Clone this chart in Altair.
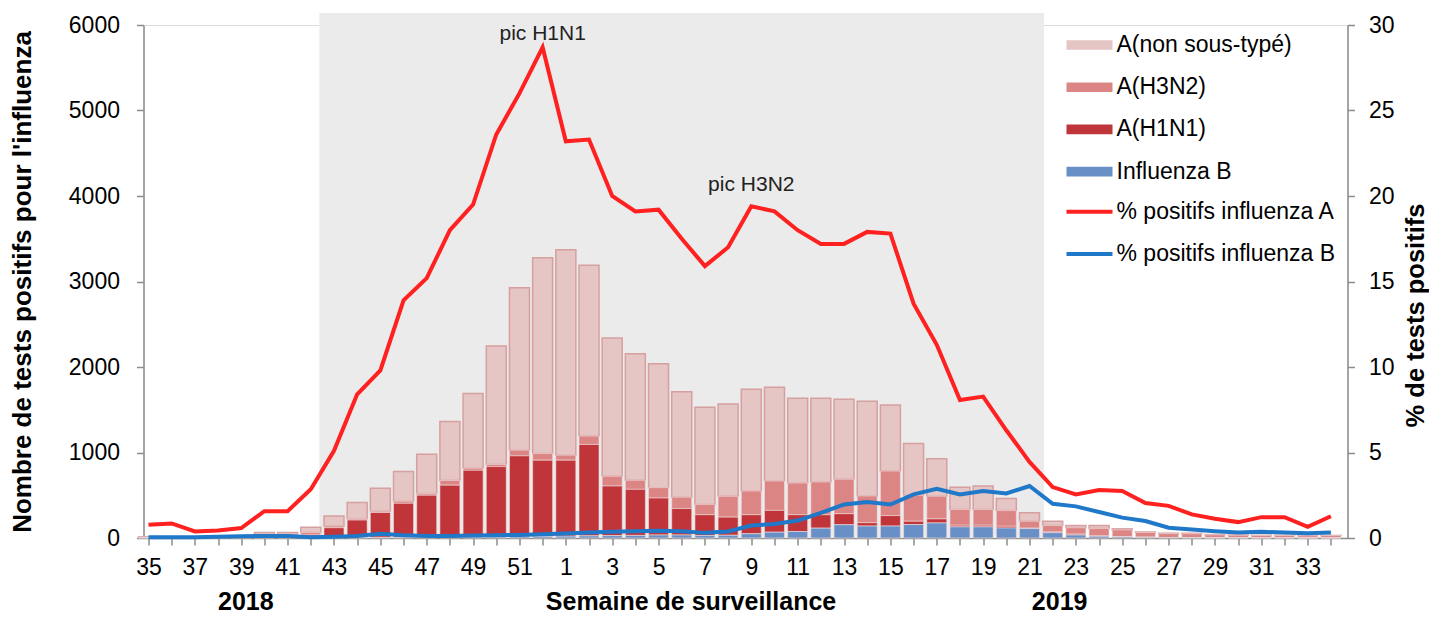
import altair as alt
import pandas as pd

# ---------------- data ----------------
weeks = list(range(35, 53)) + list(range(1, 35))
tick_labels = [str(w) if i % 2 == 0 else "" for i, w in enumerate(weeks)]

bar_types = ["A(non sous-typé)", "A(H3N2)", "A(H1N1)", "Influenza B"]
bar_colors = ["#e6c5c5", "#dc8585", "#c0353a", "#6890c6"]

flu_b = [3, 3, 3, 4, 5, 8, 8, 5, 5, 5, 8, 8, 8, 10, 10, 10, 15, 18,
         22, 25, 28, 30, 35, 35, 30, 32, 50, 68, 76, 115, 155, 140, 140, 157, 176, 130, 130, 117, 110,
         62, 35, 20, 12, 8, 5, 4, 3, 3, 3, 3, 2, 2]
h1n1 = [2, 2, 2, 2, 3, 5, 5, 30, 115, 205, 290, 397, 492, 608, 782, 825, 946, 892,
        888, 1069, 580, 539, 432, 310, 242, 212, 222, 255, 196, 157, 129, 39, 122, 39, 47, 19, 19, 20, 5,
        8, 10, 5, 3, 2, 1, 1, 1, 1, 1, 1, 1, 1]
h3n2 = [5, 5, 5, 6, 8, 25, 25, 30, 20, 15, 15, 25, 20, 55, 25, 25, 66, 78,
        59, 98, 114, 106, 122, 132, 121, 243, 278, 344, 371, 383, 403, 313, 521, 304, 266, 184, 184, 184, 81,
        75, 75, 85, 80, 55, 45, 45, 33, 28, 25, 25, 23, 25]
non_sub = [5, 5, 5, 6, 6, 27, 27, 60, 118, 190, 270, 348, 460, 689, 873, 1385, 1899, 2290,
           2401, 1999, 1617, 1480, 1448, 1233, 1136, 1080, 1190, 1097, 991, 979, 935, 1107, 773, 604, 439, 262, 274, 141, 98,
           51, 25, 35, 12, 5, 4, 5, 3, 3, 3, 3, 2, 2]

line_names = ["% positifs influenza A", "% positifs influenza B"]
line_colors = ["#ff2020", "#1f78c8"]
pct_a = [0.78, 0.85, 0.38, 0.44, 0.58, 1.57, 1.57, 2.85, 5.1, 8.4, 9.8, 13.9, 15.2, 18.0, 19.5, 23.6, 26.0, 28.7,
         23.2, 23.3, 20.0, 19.1, 19.2, 17.5, 15.9, 17.0, 19.4, 19.1, 18.0, 17.2, 17.2, 17.9, 17.8, 13.7, 11.3, 8.07, 8.27, 6.3, 4.45,
         2.98, 2.55, 2.8, 2.75, 2.05, 1.88, 1.38, 1.13, 0.93, 1.22, 1.22, 0.65, 1.27]
pct_b = [0.05, 0.05, 0.05, 0.08, 0.1, 0.12, 0.12, 0.05, 0.08, 0.12, 0.25, 0.16, 0.12, 0.12, 0.14, 0.16, 0.18, 0.22,
         0.27, 0.32, 0.36, 0.4, 0.43, 0.4, 0.3, 0.38, 0.73, 0.82, 1.02, 1.47, 1.96, 2.1, 1.96, 2.55, 2.88, 2.55, 2.75, 2.61, 3.04,
         2.0, 1.85, 1.52, 1.19, 0.99, 0.6, 0.5, 0.4, 0.32, 0.36, 0.32, 0.28, 0.32]

# shaded season (in week-index units)
shade_start, shade_end = 7.37, 38.63

annot_text = ["pic H1N1", "pic H3N2"]
annot_idx = [17, 26]
annot_pct = [29.1, 20.3]

bottom_text = ["2018", "Semaine de surveillance", "2019"]
bottom_idx = [4.2, 23.4, 39.3]

# ---------------- tables ----------------
bar_series = {bar_types[0]: non_sub, bar_types[1]: h3n2, bar_types[2]: h1n1, bar_types[3]: flu_b}
stack_rank = {bar_types[3]: 0, bar_types[2]: 1, bar_types[1]: 2, bar_types[0]: 3}
rows = []
for i, w in enumerate(weeks):
    for name, vals in bar_series.items():
        rows.append({"idx": i, "week": w, "type": name, "value": vals[i], "ord": stack_rank[name]})
bar_df = pd.DataFrame(rows)

lrows = []
for i, w in enumerate(weeks):
    lrows.append({"idx": i, "week": w, "serie": line_names[0], "pct": pct_a[i]})
    lrows.append({"idx": i, "week": w, "serie": line_names[1], "pct": pct_b[i]})
line_df = pd.DataFrame(lrows)

shade_df = pd.DataFrame({"x0": [shade_start], "x1": [shade_end]})
annot_df = pd.DataFrame({"t": annot_text, "idx": annot_idx, "pct": annot_pct})
bottom_df = pd.DataFrame({"t": bottom_text, "idx": bottom_idx})

# ---------------- chart ----------------
W, H = 1204, 513
FONT = "Liberation Sans"
AX = "#8c8c8c"

x_scale = alt.Scale(domain=[0, 51.5], nice=False, zero=False)
label_expr = "[" + ",".join("'" + t + "'" for t in tick_labels) + "][datum.value]"
x_axis = alt.Axis(values=list(range(len(weeks))), labelExpr=label_expr, title=None, grid=False,
                  labelOverlap=False, labelFlush=False, labelBound=False,
                  tickSize=7, tickWidth=1.5, tickColor=AX, domainColor=AX, domainWidth=1.5,
                  labelFontSize=23, labelFont=FONT, labelColor="#000000", labelPadding=11)

left_axis = alt.Axis(values=[0, 1000, 2000, 3000, 4000, 5000, 6000], format="d", grid=False,
                     title="Nombre de tests positifs pour l'influenza",
                     titleFont=FONT, titleFontSize=26, titleFontWeight="bold", titleColor="#000000",
                     titleAngle=270, titleAlign="center", titleBaseline="middle", titleX=-121, titleY=H / 2,
                     tickSize=7, tickWidth=1.5, tickColor=AX, domainColor=AX, domainWidth=1.5,
                     labelFontSize=23, labelFont=FONT, labelColor="#000000", labelPadding=17)

right_axis = alt.Axis(orient="right", values=[0, 5, 10, 15, 20, 25, 30], format="d", grid=False,
                      title="% de tests positifs",
                      titleFont=FONT, titleFontSize=25.5, titleFontWeight="bold", titleColor="#000000",
                      titleAngle=270, titleAlign="center", titleBaseline="middle", titleX=67.5, titleY=290,
                      tickSize=7, tickWidth=1.5, tickColor=AX, domainColor=AX, domainWidth=1.5,
                      labelFontSize=23, labelFont=FONT, labelColor="#000000", labelPadding=14)

fill_legend = alt.Legend(title=None, orient="none", legendX=926, legendY=0,
                         symbolType="M-1.15,-0.24H1.15V0.24H-1.15Z", symbolSize=1600, symbolStrokeWidth=0,
                         symbolOpacity=1, labelFont=FONT, labelFontSize=23, labelColor="#000000",
                         labelOffset=7, labelLimit=400, rowPadding=10.2, padding=0)
stroke_legend = alt.Legend(title=None, orient="none", legendX=925, legendY=165.7,
                           symbolType="M-1.21,0H1.21", symbolSize=1444, symbolStrokeWidth=4,
                           symbolOpacity=1, labelFont=FONT, labelFontSize=23, labelColor="#000000",
                           labelOffset=6, labelLimit=400, rowPadding=9.2, padding=0)

bg = alt.Chart(shade_df).mark_rect(color="#ebebeb").encode(
    x=alt.X("x0:Q", scale=x_scale, axis=x_axis),
    x2="x1:Q",
    y=alt.value(-12),
    y2=alt.value(H),
)

is_hatch = alt.datum.type == bar_types[0]
bars = alt.Chart(bar_df).mark_bar(size=20).encode(
    x=alt.X("idx:Q", scale=x_scale, axis=x_axis),
    y=alt.Y("value:Q", stack="zero", scale=alt.Scale(domain=[0, 6000], nice=False), axis=left_axis),
    fill=alt.Fill("type:N", scale=alt.Scale(domain=bar_types, range=bar_colors), legend=fill_legend),
    order=alt.Order("ord:Q", sort="ascending"),
    stroke=alt.when(is_hatch).then(alt.value("#d6a0a0")).otherwise(alt.value("#f2dede")),
    strokeWidth=alt.when(is_hatch).then(alt.value(1.5)).otherwise(alt.value(0.6)),
)

bottom_txt = alt.Chart(bottom_df).mark_text(font=FONT, fontSize=25, fontWeight="bold", color="#000000",
                                            align="center", baseline="alphabetic").encode(
    x=alt.X("idx:Q", scale=x_scale, axis=x_axis),
    y=alt.value(585),
    text="t:N",
)

left = alt.layer(bg, bars, bottom_txt)

lines = alt.Chart(line_df).mark_line(strokeWidth=4).encode(
    x=alt.X("idx:Q", scale=x_scale, axis=x_axis),
    y=alt.Y("pct:Q", scale=alt.Scale(domain=[0, 30], nice=False), axis=right_axis),
    stroke=alt.Stroke("serie:N", scale=alt.Scale(domain=line_names, range=line_colors), legend=stroke_legend),
)

annots = alt.Chart(annot_df).mark_text(font=FONT, fontSize=21, color="#222222",
                                       align="center", baseline="alphabetic").encode(
    x=alt.X("idx:Q", scale=x_scale, axis=x_axis),
    y=alt.Y("pct:Q", scale=alt.Scale(domain=[0, 30], nice=False), axis=right_axis),
    text="t:N",
)

right = alt.layer(lines, annots)

chart = alt.layer(left, right).resolve_scale(y="independent").properties(
    width=W, height=H,
    padding={"left": 135.5, "top": 17, "right": 81, "bottom": 76},
    autosize=alt.AutoSizeParams(type="none"),
).configure_view(stroke=None).configure(font=FONT)

chart.save("out.html", embed_options={"renderer": "svg", "actions": False})
